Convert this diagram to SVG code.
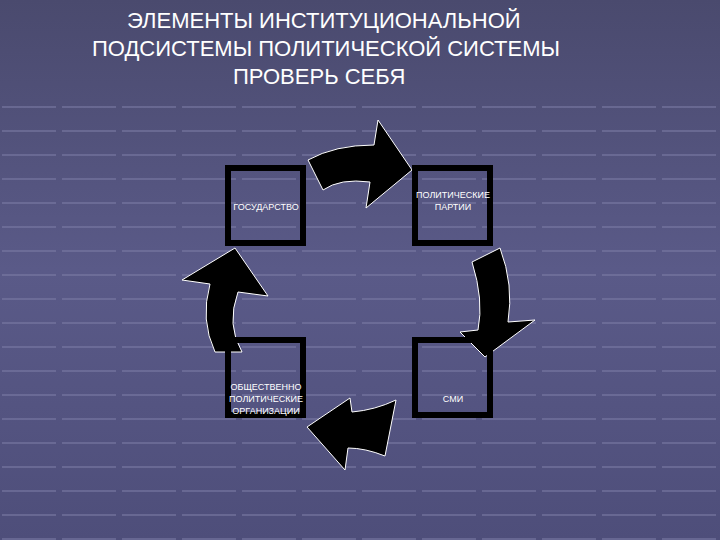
<svg xmlns="http://www.w3.org/2000/svg" width="720" height="540" viewBox="0 0 720 540">
<defs>
<linearGradient id="bg" x1="0" y1="0" x2="0" y2="1">
<stop offset="0" stop-color="#4a4a6e"/><stop offset="0.5" stop-color="#5a5a88"/><stop offset="1" stop-color="#4e4e7a"/>
</linearGradient>
<pattern id="grid" width="60" height="24" patternUnits="userSpaceOnUse" y="10">
<line x1="2" y1="1" x2="56" y2="1" stroke="#7c7ca6" stroke-width="2" opacity="0.55"/>
</pattern>
<style>
.box{fill:none;stroke:#000;stroke-width:6}
.arr{fill:#000;stroke:#fff;stroke-width:1}
.t{font-family:"Liberation Sans",Arial,sans-serif;fill:#fff}
.n{font-size:9px;text-anchor:middle}
</style>
</defs>
<rect width="720" height="540" fill="url(#bg)"/>
<rect y="100" width="720" height="440" fill="url(#grid)"/>
<g class="t" font-size="22">
<text x="127" y="28">ЭЛЕМЕНТЫ ИНСТИТУЦИОНАЛЬНОЙ</text>
<text x="92" y="56">ПОДСИСТЕМЫ ПОЛИТИЧЕСКОЙ СИСТЕМЫ</text>
<text x="233" y="84">ПРОВЕРЬ СЕБЯ</text>
</g>
<g id="connectors">
<path class="arr" d="M308,160 Q335,145 374,145 L378,120 L412,170 L366,208 L370,182 Q340,178 323,190 Z"/>
<path class="arr" d="M472,262 L500,248 Q514,285 508,322 L535,320 L485,357 L460,332 L478,330 Q484,300 472,262 Z"/>
<path class="arr" d="M352,412 Q375,410 396,400 L385,456 Q365,448 348,448 L345,470 L307,427 L350,398 Z"/>
<path class="arr" d="M242,352 Q226,325 238,292 L268,296 L235,248 L182,280 L210,284 Q200,320 215,352 Z"/>
</g>
<g id="n1"><rect class="box" x="228" y="168" width="75" height="75"/><text class="t n" x="266" y="210">ГОСУДАРСТВО</text></g>
<g id="n2"><rect class="box" x="415" y="168" width="75" height="75"/><text class="t n" x="453" y="198">ПОЛИТИЧЕСКИЕ</text><text class="t n" x="453" y="210">ПАРТИИ</text></g>
<g id="n3"><rect class="box" x="228" y="340" width="75" height="75"/><text class="t n" x="266" y="390">ОБЩЕСТВЕННО</text><text class="t n" x="266" y="402">ПОЛИТИЧЕСКИЕ</text><text class="t n" x="266" y="414">ОРГАНИЗАЦИИ</text></g>
<g id="n4"><rect class="box" x="415" y="340" width="75" height="75"/><text class="t n" x="453" y="402">СМИ</text></g>
</svg>
